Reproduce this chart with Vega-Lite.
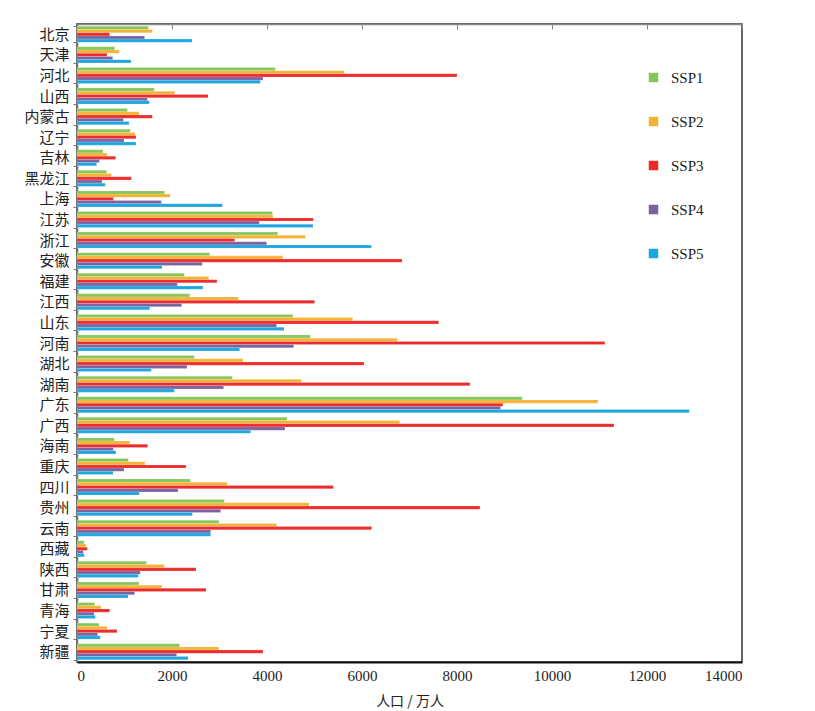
{
  "$schema": "https://vega.github.io/schema/vega-lite/v6.json",
  "autosize": "none",
  "padding": {"left": 77, "top": 24, "right": 73, "bottom": 49},
  "width": 665,
  "height": 638,
  "background": "white",
  "config": {
    "view": {"stroke": "#333", "strokeWidth": 1.5},
    "font": "'Times New Roman', 'Liberation Serif', serif"
  },
  "datasets": {
    "pop": [
      {"p":"北京","s":"SSP1","v":1502},{"p":"北京","s":"SSP2","v":1586},{"p":"北京","s":"SSP3","v":688},{"p":"北京","s":"SSP4","v":1424},{"p":"北京","s":"SSP5","v":2421},
      {"p":"天津","s":"SSP1","v":793},{"p":"天津","s":"SSP2","v":891},{"p":"天津","s":"SSP3","v":632},{"p":"天津","s":"SSP4","v":751},{"p":"天津","s":"SSP5","v":1137},
      {"p":"河北","s":"SSP1","v":4175},{"p":"河北","s":"SSP2","v":5628},{"p":"河北","s":"SSP3","v":8000},{"p":"河北","s":"SSP4","v":3916},{"p":"河北","s":"SSP5","v":3859},
      {"p":"山西","s":"SSP1","v":1628},{"p":"山西","s":"SSP2","v":2056},{"p":"山西","s":"SSP3","v":2758},{"p":"山西","s":"SSP4","v":1481},{"p":"山西","s":"SSP5","v":1523},
      {"p":"内蒙古","s":"SSP1","v":1060},{"p":"内蒙古","s":"SSP2","v":1305},{"p":"内蒙古","s":"SSP3","v":1586},{"p":"内蒙古","s":"SSP4","v":975},{"p":"内蒙古","s":"SSP5","v":1095},
      {"p":"辽宁","s":"SSP1","v":1123},{"p":"辽宁","s":"SSP2","v":1221},{"p":"辽宁","s":"SSP3","v":1242},{"p":"辽宁","s":"SSP4","v":989},{"p":"辽宁","s":"SSP5","v":1242},
      {"p":"吉林","s":"SSP1","v":547},{"p":"吉林","s":"SSP2","v":632},{"p":"吉林","s":"SSP3","v":814},{"p":"吉林","s":"SSP4","v":470},{"p":"吉林","s":"SSP5","v":414},
      {"p":"黑龙江","s":"SSP1","v":625},{"p":"黑龙江","s":"SSP2","v":723},{"p":"黑龙江","s":"SSP3","v":1144},{"p":"黑龙江","s":"SSP4","v":526},{"p":"黑龙江","s":"SSP5","v":596},
      {"p":"上海","s":"SSP1","v":1845},{"p":"上海","s":"SSP2","v":1965},{"p":"上海","s":"SSP3","v":765},{"p":"上海","s":"SSP4","v":1775},{"p":"上海","s":"SSP5","v":3059},
      {"p":"江苏","s":"SSP1","v":4112},{"p":"江苏","s":"SSP2","v":4126},{"p":"江苏","s":"SSP3","v":4975},{"p":"江苏","s":"SSP4","v":3838},{"p":"江苏","s":"SSP5","v":4968},
      {"p":"浙江","s":"SSP1","v":4224},{"p":"浙江","s":"SSP2","v":4807},{"p":"浙江","s":"SSP3","v":3319},{"p":"浙江","s":"SSP4","v":3993},{"p":"浙江","s":"SSP5","v":6196},
      {"p":"安徽","s":"SSP1","v":2793},{"p":"安徽","s":"SSP2","v":4330},{"p":"安徽","s":"SSP3","v":6842},{"p":"安徽","s":"SSP4","v":2638},{"p":"安徽","s":"SSP5","v":1789},
      {"p":"福建","s":"SSP1","v":2259},{"p":"福建","s":"SSP2","v":2772},{"p":"福建","s":"SSP3","v":2947},{"p":"福建","s":"SSP4","v":2112},{"p":"福建","s":"SSP5","v":2652},
      {"p":"江西","s":"SSP1","v":2372},{"p":"江西","s":"SSP2","v":3396},{"p":"江西","s":"SSP3","v":5003},{"p":"江西","s":"SSP4","v":2203},{"p":"江西","s":"SSP5","v":1530},
      {"p":"山东","s":"SSP1","v":4547},{"p":"山东","s":"SSP2","v":5803},{"p":"山东","s":"SSP3","v":7615},{"p":"山东","s":"SSP4","v":4203},{"p":"山东","s":"SSP5","v":4358},
      {"p":"河南","s":"SSP1","v":4912},{"p":"河南","s":"SSP2","v":6743},{"p":"河南","s":"SSP3","v":11114},{"p":"河南","s":"SSP4","v":4561},{"p":"河南","s":"SSP5","v":3424},
      {"p":"湖北","s":"SSP1","v":2470},{"p":"湖北","s":"SSP2","v":3494},{"p":"湖北","s":"SSP3","v":6042},{"p":"湖北","s":"SSP4","v":2316},{"p":"湖北","s":"SSP5","v":1565},
      {"p":"湖南","s":"SSP1","v":3270},{"p":"湖南","s":"SSP2","v":4722},{"p":"湖南","s":"SSP3","v":8273},{"p":"湖南","s":"SSP4","v":3087},{"p":"湖南","s":"SSP5","v":2049},
      {"p":"广东","s":"SSP1","v":9374},{"p":"广东","s":"SSP2","v":10967},{"p":"广东","s":"SSP3","v":8967},{"p":"广东","s":"SSP4","v":8917},{"p":"广东","s":"SSP5","v":12889},
      {"p":"广西","s":"SSP1","v":4421},{"p":"广西","s":"SSP2","v":6792},{"p":"广西","s":"SSP3","v":11304},{"p":"广西","s":"SSP4","v":4379},{"p":"广西","s":"SSP5","v":3656},
      {"p":"海南","s":"SSP1","v":786},{"p":"海南","s":"SSP2","v":1109},{"p":"海南","s":"SSP3","v":1488},{"p":"海南","s":"SSP4","v":765},{"p":"海南","s":"SSP5","v":821},
      {"p":"重庆","s":"SSP1","v":1081},{"p":"重庆","s":"SSP2","v":1431},{"p":"重庆","s":"SSP3","v":2295},{"p":"重庆","s":"SSP4","v":989},{"p":"重庆","s":"SSP5","v":758},
      {"p":"四川","s":"SSP1","v":2386},{"p":"四川","s":"SSP2","v":3158},{"p":"四川","s":"SSP3","v":5396},{"p":"四川","s":"SSP4","v":2126},{"p":"四川","s":"SSP5","v":1312},
      {"p":"贵州","s":"SSP1","v":3102},{"p":"贵州","s":"SSP2","v":4884},{"p":"贵州","s":"SSP3","v":8483},{"p":"贵州","s":"SSP4","v":3024},{"p":"贵州","s":"SSP5","v":2428},
      {"p":"云南","s":"SSP1","v":2989},{"p":"云南","s":"SSP2","v":4203},{"p":"云南","s":"SSP3","v":6203},{"p":"云南","s":"SSP4","v":2814},{"p":"云南","s":"SSP5","v":2814},
      {"p":"西藏","s":"SSP1","v":147},{"p":"西藏","s":"SSP2","v":189},{"p":"西藏","s":"SSP3","v":218},{"p":"西藏","s":"SSP4","v":133},{"p":"西藏","s":"SSP5","v":154},
      {"p":"陕西","s":"SSP1","v":1460},{"p":"陕西","s":"SSP2","v":1838},{"p":"陕西","s":"SSP3","v":2505},{"p":"陕西","s":"SSP4","v":1333},{"p":"陕西","s":"SSP5","v":1291},
      {"p":"甘肃","s":"SSP1","v":1305},{"p":"甘肃","s":"SSP2","v":1789},{"p":"甘肃","s":"SSP3","v":2716},{"p":"甘肃","s":"SSP4","v":1214},{"p":"甘肃","s":"SSP5","v":1074},
      {"p":"青海","s":"SSP1","v":372},{"p":"青海","s":"SSP2","v":505},{"p":"青海","s":"SSP3","v":688},{"p":"青海","s":"SSP4","v":358},{"p":"青海","s":"SSP5","v":386},
      {"p":"宁夏","s":"SSP1","v":463},{"p":"宁夏","s":"SSP2","v":632},{"p":"宁夏","s":"SSP3","v":842},{"p":"宁夏","s":"SSP4","v":435},{"p":"宁夏","s":"SSP5","v":491},
      {"p":"新疆","s":"SSP1","v":2161},{"p":"新疆","s":"SSP2","v":2989},{"p":"新疆","s":"SSP3","v":3916},{"p":"新疆","s":"SSP4","v":2098},{"p":"新疆","s":"SSP5","v":2337}
    ]
  },
  "data": {"name": "pop"},
  "layer": [
    {
      "mark": {"type": "bar", "stroke": "white", "strokeWidth": 0.3, "strokeOpacity": 0.6},
      "encoding": {
        "y": {
          "field": "p", "type": "nominal",
          "sort": ["北京","天津","河北","山西","内蒙古","辽宁","吉林","黑龙江","上海","江苏","浙江","安徽","福建","江西","山东","河南","湖北","湖南","广东","广西","海南","重庆","四川","贵州","云南","西藏","陕西","甘肃","青海","宁夏","新疆"],
          "scale": {"paddingInner": 0.22, "paddingOuter": 0.11},
          "axis": {
            "title": null,
            "labelFont": "Noto Sans CJK SC",
            "labelFontSize": 15,
            "labelColor": "#222",
            "labelPadding": 4,
            "tickBand": "extent",
            "tickColor": "#777",
            "tickSize": 4,
            "domainColor": "#777",
            "domainWidth": 1.5
          }
        },
        "yOffset": {"field": "s", "type": "nominal", "sort": ["SSP1","SSP2","SSP3","SSP4","SSP5"]},
        "x": {
          "field": "v", "type": "quantitative",
          "scale": {"domain": [0, 14000], "nice": false},
          "axis": {
            "orient": "bottom",
            "title": "人口 / 万人",
            "titleFont": "Noto Sans CJK SC",
            "titleFontSize": 14,
            "titleFontWeight": "normal",
            "titleColor": "#222",
            "titlePadding": 11,
            "values": [0,2000,4000,6000,8000,10000,12000,14000],
            "format": "d",
            "labelFont": "'Times New Roman', 'Liberation Serif', serif",
            "labelFontSize": 15,
            "labelColor": "#222",
            "labelPadding": 6,
            "ticks": false,
            "grid": false,
            "domainColor": "#111",
            "domainWidth": 2
          }
        },
        "color": {
          "field": "s", "type": "nominal",
          "scale": {"domain": ["SSP1","SSP2","SSP3","SSP4","SSP5"], "range": ["#86C65A","#F4B335","#EE2B2B","#7B63A0","#1DA6DF"]},
          "legend": {
            "title": null,
            "orient": "none",
            "legendX": 569,
            "legendY": 46,
            "symbolType": "square",
            "symbolSize": 90,
            "symbolStrokeWidth": 0,
            "labelFont": "'Times New Roman', 'Liberation Serif', serif",
            "labelFontSize": 15,
            "labelColor": "#222",
            "labelOffset": 10,
            "rowPadding": 28
          }
        }
      }
    },
    {
      "mark": {"type": "rule", "opacity": 0},
      "encoding": {
        "x": {
          "field": "v", "type": "quantitative",
          "scale": {"domain": [0, 14000], "nice": false},
          "axis": {
            "orient": "top",
            "title": null,
            "labels": false,
            "values": [0,2000,4000,6000,8000,10000,12000,14000],
            "tickSize": -5,
            "tickColor": "#888",
            "domainColor": "#888",
            "domainWidth": 1.5,
            "grid": false
          }
        }
      }
    }
  ],
  "resolve": {"axis": {"x": "independent"}}
}
